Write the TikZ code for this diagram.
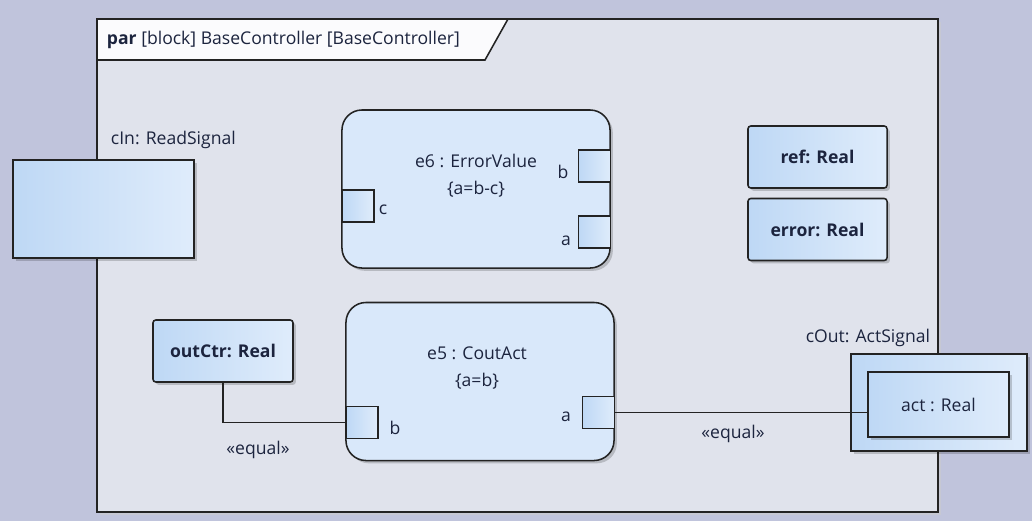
\documentclass[tikz,border=0pt]{standalone}
\usepackage{fontspec}
\setmainfont{Open Sans}
\usepackage{tikz}
\usetikzlibrary{positioning, shadows}
\definecolor{bgouter}{RGB}{192, 196, 220}
\definecolor{bgframe}{RGB}{224, 227, 236}
\definecolor{tabfill}{RGB}{251, 251, 253}
\definecolor{blockfill}{RGB}{217, 232, 250}
\definecolor{portleft}{RGB}{190, 216, 245}
\definecolor{portright}{RGB}{223, 236, 251}
\definecolor{ink}{RGB}{28, 36, 62}
\definecolor{edge}{RGB}{35, 35, 35}

\begin{document}
\begin{tikzpicture}[
      x=0.025cm, y=-0.025cm,
      every node/.style = {font=\fontsize{12.5}{19}\selectfont, text=ink},
      shade/.style   = {drop shadow={shadow xshift=0.07cm, shadow yshift=-0.07cm,
                        opacity=0.18, fill=black}},
      part/.style    = {draw=edge, line width=1.1pt, fill=blockfill, rounded corners=0.5cm,
                        minimum width=6.7cm, minimum height=3.95cm, inner sep=0pt, shade},
      port/.style    = {draw=edge, line width=1.1pt, left color=portleft, right color=portright,
                        minimum size=0.8cm, inner sep=0pt},
      value/.style   = {draw=edge, line width=1.1pt, left color=portleft, right color=portright,
                        rounded corners=2pt, minimum width=3.475cm, minimum height=1.55cm,
                        font=\fontsize{12.5}{19}\selectfont\bfseries, shade},
      signal/.style  = {draw=edge, line width=1.1pt, left color=portleft, right color=portright,
                        inner sep=0pt, shade},
      conn/.style    = {draw=edge, line width=0.9pt},
    ]

    % --- Hintergrund und Rahmen ---
    \useasboundingbox[fill=bgouter] (0,0) rectangle (1032,521);
    \fill[gray!40, opacity=0.5] (100,22) rectangle (941,515);
    \draw[edge, line width=1.1pt, fill=bgframe] (97,19) rectangle (938,512);
    \draw[edge, line width=1.1pt, fill=tabfill] (97,19) -- (508,19) -- (485,60) -- (97,60) -- cycle;
    \node[anchor=west] (title) at (102,40) {\textbf{par} [block] BaseController [BaseController]};

    % --- Signale (Rand) ---
    \node[anchor=west] (cInlbl) at (106,140) {cIn: ReadSignal};
    \node[signal, minimum width=4.525cm, minimum height=2.45cm] (cIn) at (103.5,209) {};

    \node[anchor=east] (cOutlbl) at (935,338) {cOut: ActSignal};
    \node[signal, minimum width=4.4cm, minimum height=2.425cm] (cOut) at (939,402.5) {};
    \node[signal, minimum width=3.525cm, minimum height=1.625cm, drop shadow={opacity=0}] (act) at (938.5,404.5) {act : Real};

    % --- e6 : ErrorValue ---
    \node[part] (e6) at (476,189) {};
    \node[align=center] (e6name) at (476,176) {e6 : ErrorValue\\{}\{a=b-c\}};
    \node[port] (e6b) at (594.5,166) {};
    \node[port] (e6a) at (594.5,232) {};
    \node[port] (e6c) at (358,206) {};
    \node (e6blbl) at (563,172) {b};
    \node (e6albl) at (566,241) {a};
    \node (e6clbl) at (383,210) {c};

    % --- e5 : CoutAct ---
    \node[part] (e5) at (480,381.5) {};
    \node[align=center] (e5name) at (477,368) {e5 : CoutAct\\{}\{a=b\}};
    \node[port] (e5b) at (362,422.5) {};
    \node[port] (e5a) at (598.5,412.5) {};
    \node (e5blbl) at (395,428) {b};
    \node (e5albl) at (566,417) {a};

    % --- Werte ---
    \node[value] (ref)    at (817.5,157)   {ref: Real};
    \node[value] (error)  at (817.5,229.5) {error: Real};
    \node[value, minimum width=3.5cm] (outCtr) at (223,351) {outCtr: Real};

    % --- Bindungen ---
    \draw[conn] (outCtr.south) |- (e5b.west);
    \draw[conn] (e5a.east) -- (e5a.east -| act.west);
    \node (eq1) at (258,450) {«equal»};
    \node (eq2) at (733,434) {«equal»};

  \end{tikzpicture}
\end{document}
